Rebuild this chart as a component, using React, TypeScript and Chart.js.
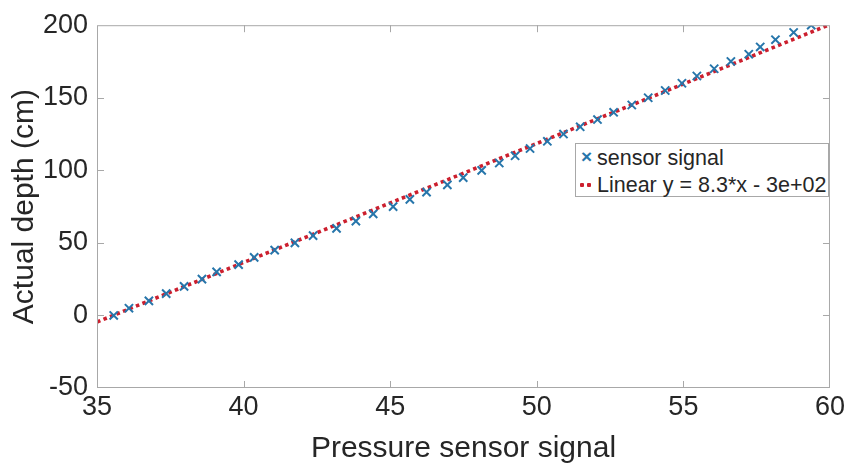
import React, { useEffect, useRef } from "react";
import { Chart, registerables } from "chart.js";

Chart.register(...registerables);

// Sensor readings (x) and actual depths (y)
const pressureSignal = [
  35.57, 36.09, 36.77, 37.36, 37.97, 38.58, 39.08, 39.83, 40.36, 41.06,
  41.75, 42.37, 43.17, 43.83, 44.42, 45.1, 45.67, 46.24, 46.95, 47.49,
  48.12, 48.72, 49.26, 49.77, 50.36, 50.91, 51.48, 52.07, 52.62, 53.24,
  53.8, 54.38, 54.95, 55.46, 56.05, 56.62, 57.23, 57.62, 58.14, 58.76, 59.36,
];
const actualDepth = [
  0, 5, 10, 15, 20, 25, 30, 35, 40, 45,
  50, 55, 60, 65, 70, 75, 80, 85, 90, 95,
  100, 105, 110, 115, 120, 125, 130, 135, 140, 145,
  150, 155, 160, 165, 170, 175, 180, 185, 190, 195, 200,
];
// Linear fit end points
const fitX = [35, 60];
const fitY = [-4.5, 200.5];

const xTicks = [35, 40, 45, 50, 55, 60];
const yTicks = [-50, 0, 50, 100, 150, 200];

const seriesLabels = ["sensor signal", "Linear y = 8.3*x - 3e+02"];

const FONT = '"Liberation Sans", Arial, Helvetica, sans-serif';
const TEXT = "#262626";
const AXIS = "#a8a8a8";
const BLUE = "#2776ab";
const RED = "#cc1f2e";

const frameTicks = {
  id: "frameTicks",
  afterDraw(chart: any) {
    const { ctx, chartArea: a, scales } = chart;
    ctx.save();
    ctx.strokeStyle = AXIS;
    ctx.lineWidth = 1;
    ctx.strokeRect(a.left + 0.5, a.top + 0.5, a.right - a.left - 1, a.bottom - a.top - 1);
    const L = 7;
    ctx.beginPath();
    xTicks.slice(1, -1).forEach((v) => {
      const x = Math.round(scales.x.getPixelForValue(v)) + 0.5;
      ctx.moveTo(x, a.bottom);
      ctx.lineTo(x, a.bottom - L);
      ctx.moveTo(x, a.top);
      ctx.lineTo(x, a.top + L);
    });
    yTicks.slice(1, -1).forEach((v) => {
      const y = Math.round(scales.y.getPixelForValue(v)) + 0.5;
      ctx.moveTo(a.left, y);
      ctx.lineTo(a.left + L, y);
      ctx.moveTo(a.right, y);
      ctx.lineTo(a.right - L, y);
    });
    ctx.stroke();
    ctx.restore();
  },
};

export default function App() {
  const ref = useRef<HTMLCanvasElement>(null);

  useEffect(() => {
    const canvas = ref.current;
    if (!canvas) return;
    const chart = new Chart(canvas, {
      type: "scatter",
      data: {
        datasets: [
          {
            type: "line",
            label: seriesLabels[1],
            data: fitX.map((x, i) => ({ x, y: fitY[i] })),
            borderColor: RED,
            borderWidth: 3.6,
            borderDash: [3.6, 3.4],
            pointRadius: 0,
            fill: false,
            order: 2,
          } as any,
          {
            label: seriesLabels[0],
            data: pressureSignal.map((x, i) => ({ x, y: actualDepth[i] })),
            pointStyle: "crossRot",
            pointRadius: 5.8,
            borderColor: BLUE,
            backgroundColor: BLUE,
            pointBorderWidth: 2,
            showLine: false,
            order: 1,
          } as any,
        ],
      },
      options: {
        animation: false,
        responsive: false,
        maintainAspectRatio: false,
        layout: { padding: { top: 20, right: 18, left: 0, bottom: 0 } },
        plugins: { legend: { display: false }, tooltip: { enabled: false } },
        scales: {
          x: {
            type: "linear",
            min: 35,
            max: 60,
            afterFit: (s: any) => {
              s.height = 83;
            },
            afterBuildTicks: (s: any) => {
              s.ticks = xTicks.map((v) => ({ value: v }));
            },
            grid: { display: false, drawTicks: false },
            border: { display: false },
            ticks: {
              color: TEXT,
              font: { family: FONT, size: 27 },
              padding: 3,
              maxRotation: 0,
              autoSkip: false,
            },
            title: {
              display: true,
              text: "Pressure sensor signal",
              color: TEXT,
              font: { family: FONT, size: 30 },
              padding: { top: 0, bottom: 4 },
            },
          },
          y: {
            type: "linear",
            min: -50,
            max: 200,
            afterFit: (s: any) => {
              s.width = 97;
            },
            afterBuildTicks: (s: any) => {
              s.ticks = yTicks.map((v) => ({ value: v }));
            },
            grid: { display: false, drawTicks: false },
            border: { display: false },
            ticks: {
              color: TEXT,
              font: { family: FONT, size: 27 },
              padding: 9,
              autoSkip: false,
            },
            title: {
              display: true,
              text: "Actual depth (cm)",
              color: TEXT,
              font: { family: FONT, size: 30 },
              padding: { top: 7, bottom: 0 },
            },
          },
        },
      },
      plugins: [frameTicks],
    });
    return () => chart.destroy();
  }, []);

  const dot = (left: number) => (
    <span
      style={{
        position: "absolute",
        left,
        top: 39,
        width: 4,
        height: 4,
        background: RED,
        borderRadius: 1,
      }}
    />
  );

  return (
    <div style={{ position: "absolute", left: 0, top: 0, width: 848, height: 471, background: "#fff" }}>
      <canvas ref={ref} width={848} height={471} style={{ display: "block" }} />
      <div
        style={{
          position: "absolute",
          left: 575,
          top: 143,
          width: 254,
          height: 54,
          border: `1px solid ${AXIS}`,
          background: "#fff",
          fontFamily: FONT,
          fontSize: 21.5,
          color: TEXT,
          boxSizing: "border-box",
        }}
      >
        <span style={{ position: "absolute", left: 5, top: 1, color: BLUE, fontSize: 19, fontWeight: "bold", lineHeight: "24px" }}>×</span>
        <span style={{ position: "absolute", left: 21, top: 2, lineHeight: "24px", whiteSpace: "nowrap" }}>{seriesLabels[0]}</span>
        {dot(4)}
        {dot(11)}
        <span style={{ position: "absolute", left: 21, top: 29, lineHeight: "24px", whiteSpace: "nowrap" }}>{seriesLabels[1]}</span>
      </div>
    </div>
  );
}
